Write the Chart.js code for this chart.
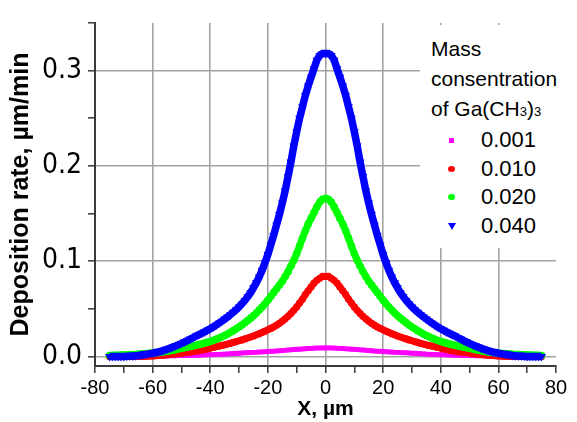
<!DOCTYPE html>
<html>
<head>
<meta charset="utf-8">
<script src="https://cdn.jsdelivr.net/npm/chart.js@4.4.0/dist/chart.umd.min.js"></script>
<style>
  html, body { margin: 0; padding: 0; background: #fff; }
  #wrap { position: relative; width: 577px; height: 422px; }
  #legend {
    position: absolute; left: 420px; top: 25px; width: 157px; height: 223px;
    background: #fff; color: #000;
    font-family: "Liberation Sans", Arial, sans-serif;
  }
  #legend .ttl { position: absolute; left: 11px; top: 9px; font-size: 21px; line-height: 30px; white-space: nowrap; }
  #legend .ttl .sb { font-size: 13px; }
  #legend .items { position: absolute; left: 0; top: 101px; }
  #legend .row { position: relative; height: 28.5px; line-height: 28.5px; font-size: 22px; }
  #legend .row span.txt { position: absolute; left: 61px; top: 0; }
  #legend .mk { position: absolute; }
</style>
</head>
<body>
<div id="wrap">
  <canvas id="chart" width="577" height="422"></canvas>
  <div id="legend">
    <div class="ttl">Mass<br>consentration<br>of Ga(CH<span class="sb">3</span>)<span class="sb">3</span></div>
    <div class="items" id="legendItems"></div>
  </div>
</div>
<script>
// ── Datos ────────────────────────────────────────────────────────────
const xPositions = [
  -75,-74,-73,-72,-71,-70,-69,-68,-67,-66,-65,-64,-63,-62,-61,-60,-59,-58,-57,-56,
  -55,-54,-53,-52,-51,-50,-49,-48,-47,-46,-45,-44,-43,-42,-41,-40,-39,-38,-37,-36,
  -35,-34,-33,-32,-31,-30,-29,-28,-27,-26,-25,-24,-23,-22,-21,-20,-19,-18,-17,-16,
  -15,-14,-13,-12,-11,-10,-9,-8,-7,-6,-5,-4,-3,-2,-1,0,1,2,3,4,5,6,7,8,9,10,
  11,12,13,14,15,16,17,18,19,20,21,22,23,24,25,26,27,28,29,30,31,32,33,34,35,
  36,37,38,39,40,41,42,43,44,45,46,47,48,49,50,51,52,53,54,55,56,57,58,59,60,
  61,62,63,64,65,66,67,68,69,70,71,72,73,74,75
];

const seriesNames = ['0.001', '0.010', '0.020', '0.040'];

const rate0001 = [
  0,0,0,0,0,0,0,0.0001,0.0001,0.0001,0.0001,0.0002,0.0002,0.0002,0.0003,
  0.0003,0.0004,0.0004,0.0005,0.0006,0.0006,0.0007,0.0008,0.0008,0.0009,
  0.0010,0.0011,0.0011,0.0012,0.0013,0.0014,0.0014,0.0015,0.0016,0.0017,
  0.0018,0.0019,0.0021,0.0022,0.0024,0.0025,0.0027,0.0029,0.0031,0.0033,
  0.0035,0.0037,0.0038,0.0040,0.0041,0.0043,0.0044,0.0046,0.0048,0.0050,
  0.0052,0.0054,0.0056,0.0058,0.0061,0.0063,0.0065,0.0068,0.0070,0.0073,
  0.0075,0.0077,0.0079,0.0081,0.0083,0.0085,0.0087,0.0088,0.0089,0.0090,
  0.0090,
  0.0090,0.0089,0.0088,0.0087,0.0085,0.0083,0.0081,0.0079,0.0077,0.0075,
  0.0073,0.0070,0.0068,0.0065,0.0063,0.0061,0.0058,0.0056,0.0054,0.0052,
  0.0050,0.0048,0.0046,0.0044,0.0043,0.0041,0.0040,0.0038,0.0037,0.0035,
  0.0033,0.0031,0.0029,0.0027,0.0025,0.0024,0.0022,0.0021,0.0019,0.0018,
  0.0017,0.0016,0.0015,0.0014,0.0014,0.0013,0.0012,0.0011,0.0011,0.0010,
  0.0009,0.0008,0.0008,0.0007,0.0006,0.0006,0.0005,0.0004,0.0004,0.0003,
  0.0003,0.0002,0.0002,0.0002,0.0001,0.0001,0.0001,0.0001,0,0,0,0,0,0,0
];

const rate0010 = [
  0,0,0,0,0,0,
  0,0,0,0,0,0.0001,0.0002,0.0003,0.0004,0.0005,
  0.0008,0.0010,0.0013,0.0016,0.0019,0.0022,0.0025,0.0028,0.0032,0.0035,
  0.0039,0.0043,0.0047,0.0051,0.0056,0.0061,0.0067,0.0073,0.0080,0.0088,
  0.0094,0.0101,0.0108,0.0115,0.0122,0.0130,0.0138,0.0147,0.0156,0.0165,
  0.0174,0.0184,0.0194,0.0204,0.0215,0.0227,0.0239,0.0252,0.0266,0.0280,
  0.0294,0.0310,0.0328,0.0348,0.0370,0.0395,0.0422,0.0452,0.0485,0.0520,
  0.056,0.060,0.065,0.069,0.073,0.077,0.080,0.082,0.084,
  0.084,
  0.084,0.082,0.080,0.077,0.073,0.069,0.065,0.060,0.056,
  0.0520,0.0485,0.0452,0.0422,0.0395,0.0370,0.0348,0.0328,0.0310,0.0294,
  0.0280,0.0266,0.0252,0.0239,0.0227,0.0215,0.0204,0.0194,0.0184,0.0174,
  0.0165,0.0156,0.0147,0.0138,0.0130,0.0122,0.0115,0.0108,0.0101,0.0094,
  0.0088,0.0080,0.0073,0.0067,0.0061,0.0056,0.0051,0.0047,0.0043,0.0039,
  0.0035,0.0032,0.0028,0.0025,0.0022,0.0019,0.0016,0.0013,0.0010,0.0008,
  0.0005,0.0004,0.0003,0.0002,0.0001,0,0,0,0,0,
  0,0,0,0,0,0
];

const rate0020 = [
  0.0010,0.0011,0.0012,0.0013,0.0014,0.0015,0.0016,0.0018,0.0019,0.0021,
  0.0023,0.0025,0.0027,0.0030,0.0032,0.0035,0.0038,0.0041,0.0045,0.0050,
  0.0055,0.0060,0.0066,0.0072,0.0079,0.0087,0.0092,0.0098,0.0104,0.0110,
  0.0117,0.0124,0.0131,0.0140,0.0148,0.0157,0.0168,0.0180,0.0192,0.0206,
  0.0220,0.0236,0.0253,0.0271,0.0290,0.0310,0.0331,0.0353,0.0377,0.0402,
  0.0428,0.0457,0.0487,0.0519,0.0553,0.059,0.063,0.067,0.071,0.075,
  0.079,0.084,0.089,0.095,0.101,0.108,0.116,0.124,0.132,0.139,
  0.145,0.151,0.157,0.162,0.165,
  0.166,
  0.165,0.162,0.157,0.151,0.145,0.139,0.132,0.124,0.116,0.108,
  0.101,0.095,0.089,0.084,0.079,0.075,0.071,0.067,0.063,0.059,
  0.0553,0.0519,0.0487,0.0457,0.0428,0.0402,0.0377,0.0353,0.0331,0.0310,
  0.0290,0.0271,0.0253,0.0236,0.0220,0.0206,0.0192,0.0180,0.0168,0.0157,
  0.0148,0.0140,0.0131,0.0124,0.0117,0.0110,0.0104,0.0098,0.0092,0.0087,
  0.0079,0.0072,0.0066,0.0060,0.0055,0.0050,0.0045,0.0041,0.0038,0.0035,
  0.0032,0.0030,0.0027,0.0025,0.0023,0.0021,0.0019,0.0018,0.0016,0.0015,
  0.0014,0.0013,0.0012,0.0011,0.0010
];

const rate0040 = [
  0,0,0,0,0,0,
  0.0002,0.0004,0.0006,0.0008,0.0010,0.0015,0.0020,0.0025,0.0030,0.0035,
  0.0042,0.0049,0.0057,0.0066,0.0076,0.0087,0.0099,0.0111,0.0124,0.0137,
  0.0151,0.0166,0.0181,0.0197,0.0214,0.0228,0.0243,0.0258,0.0275,0.0292,
  0.0310,0.0329,0.0349,0.0370,0.0392,0.0415,0.0439,0.0464,0.0491,0.0520,
  0.0552,0.0588,0.0627,0.0670,0.0720,0.0775,0.0835,0.0905,0.0985,0.107,
  0.117,0.127,0.138,0.149,0.161,0.174,0.189,0.204,0.221,0.236,
  0.250,0.262,0.274,0.284,0.293,0.302,0.311,0.316,0.318,
  0.318,
  0.318,0.316,0.311,0.302,0.293,0.284,0.274,0.262,0.250,
  0.236,0.221,0.204,0.189,0.174,0.161,0.149,0.138,0.127,0.117,
  0.107,0.0985,0.0905,0.0835,0.0775,0.0720,0.0670,0.0627,0.0588,0.0552,
  0.0520,0.0491,0.0464,0.0439,0.0415,0.0392,0.0370,0.0349,0.0329,0.0310,
  0.0292,0.0275,0.0258,0.0243,0.0228,0.0214,0.0197,0.0181,0.0166,0.0151,
  0.0137,0.0124,0.0111,0.0099,0.0087,0.0076,0.0066,0.0057,0.0049,0.0042,
  0.0035,0.0030,0.0025,0.0020,0.0015,0.0010,0.0008,0.0006,0.0004,0.0002,
  0,0,0,0,0,0
];

const seriesValues = [rate0001, rate0010, rate0020, rate0040];

const xTicks = [-80,-70,-60,-50,-40,-30,-20,-10,0,10,20,30,40,50,60,70,80];
const yTicks = [0, 0.05, 0.1, 0.15, 0.2, 0.25, 0.3, 0.35];
const yTickLabels = ['0.0', '', '0.1', '', '0.2', '', '0.3', ''];

// ── Estilos ──────────────────────────────────────────────────────────
const seriesColors = ['#ff00ff', '#ff0000', '#00ff00', '#0000ff'];
const seriesPoint  = ['rect', 'circle', 'circle', 'triangle'];
const seriesRadius = [3, 3.6, 3.8, 5];
const seriesLine   = [5, 6.5, 7, 7.5];
const seriesOrder  = [3, 2, 1, 0];   // azul arriba

const SANS = "'Liberation Sans', Arial, sans-serif";
const NARROW = "'Liberation Sans Narrow', 'Arial Narrow', 'DejaVu Sans Condensed', sans-serif";
const GRID = '#a3a3a3';
const AXIS = '#3a3a3a';

const datasets = seriesNames.map((name, i) => ({
  label: name,
  data: xPositions.map((x, k) => ({ x, y: seriesValues[i][k] })),
  showLine: true,
  borderColor: seriesColors[i],
  borderWidth: seriesLine[i],
  backgroundColor: seriesColors[i],
  pointBackgroundColor: seriesColors[i],
  pointBorderWidth: 0,
  pointStyle: seriesPoint[i],
  pointRotation: seriesPoint[i] === 'triangle' ? 180 : 0,
  pointRadius: seriesRadius[i],
  tension: 0,
  order: seriesOrder[i],
}));

new Chart(document.getElementById('chart'), {
  type: 'scatter',
  data: { datasets },
  options: {
    responsive: false,
    animation: false,
    layout: { padding: { top: 23, right: 21, left: 0, bottom: 0 } },
    plugins: { legend: { display: false }, tooltip: { enabled: false } },
    scales: {
      x: {
        type: 'linear', min: -80, max: 80,
        afterBuildTicks: s => { s.ticks = xTicks.map(v => ({ value: v })); },
        afterFit: s => { s.height = 56; },
        ticks: {
          autoSkip: false, maxRotation: 0, padding: 3, color: '#000',
          font: { family: SANS, size: 20 },
          callback: v => (v % 20 === 0 ? String(v) : ''),
        },
        grid: {
          color: c => (c.tick && c.tick.value % 20 === 0 && Math.abs(c.tick.value) !== 80) ? GRID : 'rgba(0,0,0,0)',
          lineWidth: 1.6,
          tickColor: AXIS, tickLength: 7, tickWidth: 1.5,
        },
        border: { color: AXIS, width: 2 },
        title: {
          display: true, text: 'X, µm', color: '#000',
          font: { family: SANS, size: 21, weight: 'bold' },
          padding: { top: 0, bottom: 0 },
        },
      },
      y: {
        type: 'linear', min: -0.01, max: 0.35,
        afterBuildTicks: s => { s.ticks = yTicks.map(v => ({ value: v })); },
        afterFit: s => { s.width = 95; },
        ticks: {
          autoSkip: false, padding: 6, color: '#000',
          font: { family: NARROW, size: 28 },
          callback: (v, i) => yTickLabels[i],
        },
        grid: {
          color: c => (c.index % 2 === 0) ? GRID : 'rgba(0,0,0,0)',
          lineWidth: 1.6,
          tickColor: AXIS, tickLength: 7, tickWidth: 1.5,
        },
        border: { color: AXIS, width: 2 },
        title: {
          display: true, text: 'Deposition rate, µm/min', color: '#000',
          font: { family: SANS, size: 25, weight: 'bold' },
          padding: { top: 6, bottom: 0 },
        },
      },
    },
  },
});

// ── Leyenda HTML ─────────────────────────────────────────────────────
const legendBox = document.getElementById('legendItems');
seriesNames.forEach((name, i) => {
  const row = document.createElement('div');
  row.className = 'row';
  const mk = document.createElement('span');
  mk.className = 'mk';
  const c = seriesColors[i];
  if (seriesPoint[i] === 'rect') {
    mk.style.cssText = `left:29px;top:12px;width:5px;height:5px;background:${c}`;
  } else if (seriesPoint[i] === 'circle') {
    mk.style.cssText = `left:28px;top:11px;width:7px;height:6px;border-radius:50%;background:${c}`;
  } else {
    mk.style.cssText = `left:28px;top:11px;width:0;height:0;border-left:4px solid transparent;border-right:4px solid transparent;border-top:7px solid ${c}`;
  }
  const txt = document.createElement('span');
  txt.className = 'txt';
  txt.textContent = name;
  row.appendChild(mk);
  row.appendChild(txt);
  legendBox.appendChild(row);
});
</script>
</body>
</html>
